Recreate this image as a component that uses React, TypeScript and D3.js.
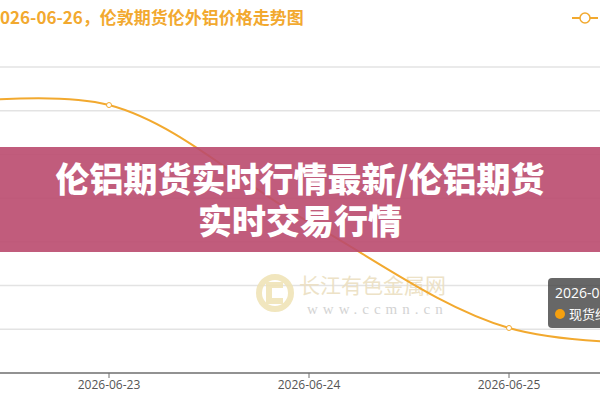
import React from "react";
import * as d3 from "d3";

const dates = ["2026-06-22", "2026-06-23", "2026-06-24", "2026-06-25", "2026-06-26"];
const prices = [2640.6, 2641.3, 2614.5, 2590.3, 2586.6];
const tickDates = ["2026-06-23", "2026-06-24", "2026-06-25"];
const gridValues = [2580, 2590, 2600, 2610, 2620, 2630, 2640, 2650];
const titleText = "2026-06-26，伦敦期货伦外铝价格走势图";
const bannerLines = ["伦铝期货实时行情最新/伦铝期货", "实时交易行情"];
const tooltipDate = "2026-06-25";
const tooltipSeries = "现货结算价：2590.3";

const W = 600;
const H = 400;
const parse = d3.timeParse("%Y-%m-%d");
const ORANGE = "#f2a92f";

export default function App() {
  const x = d3
    .scaleTime()
    .domain([parse("2026-06-23")!, parse("2026-06-24")!])
    .range([109, 309]);
  const y = d3.scaleLinear().domain([2580, 2650]).range([373, 67]);

  const data = dates.map((d, i) => ({ date: parse(d)!, value: prices[i] }));
  const line = d3
    .line<{ date: Date; value: number }>()
    .x((d) => x(d.date))
    .y((d) => y(d.value))
    .curve(d3.curveCatmullRom.alpha(0.5));

  const shown = data.filter((d) => x(d.date) > 0 && x(d.date) < W);

  return (
    <svg
      width={W}
      height={H}
      style={{ position: "absolute", left: 0, top: 0, background: "#fff" }}
      fontFamily="'Noto Sans CJK SC', 'Noto Sans', sans-serif"
    >
      {/* gridlines */}
      {gridValues.slice(1).map((v) => (
        <line key={v} x1={0} x2={W} y1={y(v)} y2={y(v)} stroke="#e3e3e3" strokeWidth={1.5} />
      ))}
      {/* x axis */}
      <line x1={0} x2={W} y1={y(2580)} y2={y(2580)} stroke="#6e6e6e" strokeWidth={1.5} />
      {tickDates.map((t) => {
        const tx = x(parse(t)!);
        return (
          <g key={t}>
            <line x1={tx} x2={tx} y1={y(2580)} y2={y(2580) + 5} stroke="#6e6e6e" />
            <text x={tx} y={y(2580) + 16} textAnchor="middle" fontSize={12} fill="#555" fontFamily="'Open Sans', 'Noto Sans', sans-serif">
              {t}
            </text>
          </g>
        );
      })}

      {/* watermark */}
      <g opacity={0.9}>
        <circle cx={275} cy={293} r={16} fill="none" stroke="#f0e4b8" strokeWidth={6} />
        <path d="M 283 285 L 269 285 L 269 301 L 283 301" fill="none" stroke="#f0e4b8" strokeWidth={6} />
        <text x={299} y={293} fontSize={21} fill="#ecdfc2">长江有色金属网</text>
        <text x={307} y={314} fontSize={15} fill="#cfcfcf" fontFamily="'Liberation Serif', serif" letterSpacing={5}>
          www.ccmn.cn
        </text>
      </g>

      {/* series line */}
      <path d={line(data) || ""} fill="none" stroke={ORANGE} strokeWidth={2} />
      {shown.map((d, i) => (
        <circle key={i} cx={x(d.date)} cy={y(d.value)} r={2.5} fill="#fff" stroke={ORANGE} strokeWidth={1} />
      ))}

      {/* title */}
      <text x={-10} y={24} fontSize={17} fontWeight="bold" fill={ORANGE}>
        {titleText}
      </text>

      {/* legend icon */}
      <line x1={572} x2={598} y1={18} y2={18} stroke={ORANGE} strokeWidth={2} />
      <circle cx={585} cy={18} r={5} fill="#fff" stroke={ORANGE} strokeWidth={1.5} />

      {/* tooltip */}
      <g>
        <rect x={548} y={278} width={140} height={50} rx={4} fill="rgba(60,60,60,0.78)" />
        <text x={555} y={298} fontSize={14} fill="#fff" fontFamily="'Open Sans', 'Noto Sans', sans-serif">
          {tooltipDate}
        </text>
        <circle cx={560} cy={314} r={5} fill="#f5a00f" />
        <text x={569} y={319} fontSize={13} fill="#fff">
          {tooltipSeries}
        </text>
      </g>

      {/* banner */}
      <rect x={0} y={147} width={W} height={105} fill="rgb(186,74,110)" opacity={0.9} />
      {bannerLines.map((t, i) => (
        <text
          key={i}
          x={300}
          y={192 + i * 42}
          textAnchor="middle"
          fontSize={34}
          fontWeight={900}
          fill="#fff"
        >
          {t}
        </text>
      ))}
    </svg>
  );
}
